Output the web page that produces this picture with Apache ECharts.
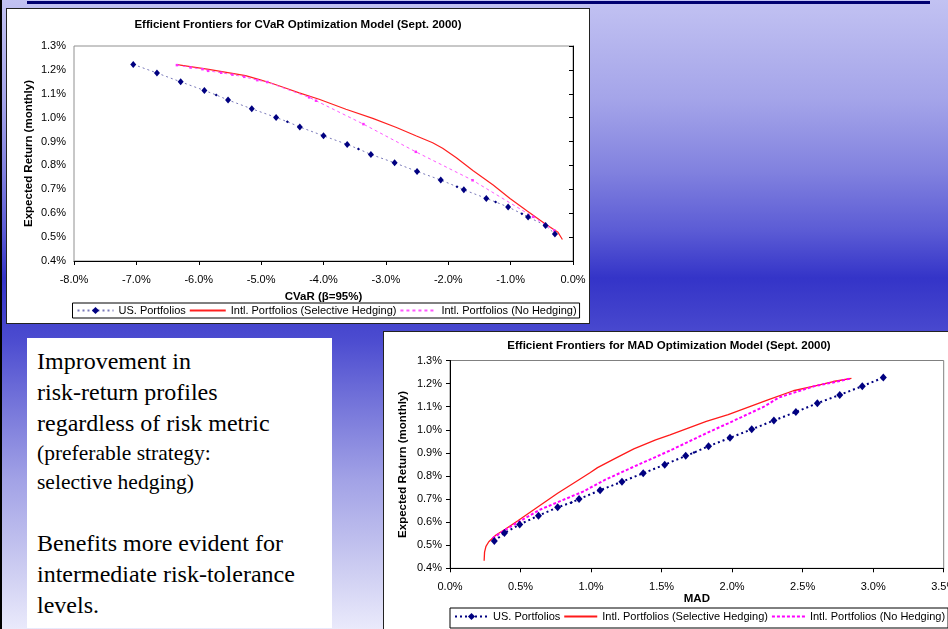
<!DOCTYPE html>
<html>
<head>
<meta charset="utf-8">
<script src="https://cdn.jsdelivr.net/npm/echarts@6/dist/echarts.min.js"></script>
<style>
  html, body { margin:0; padding:0; }
  #slide { position:relative; width:948px; height:629px; overflow:hidden;
    background: linear-gradient(to bottom, #c2c2f2 0px, #a4a4e9 100px, #8282df 170px, #5c5cd5 230px, #3434c8 278px, #4242cc 315px, #4c4cd0 340px, #7272d9 400px, #a2a2e6 480px, #c8c8f0 560px, #eaeafb 629px); }
  #navbar { position:absolute; left:27px; top:0.5px; width:903px; height:3px; background:#000070; }
  #leftline { position:absolute; left:0; top:0; width:2px; height:629px; background:#000; }
  .box { position:absolute; background:#fff; border:1.5px solid #222; box-sizing:border-box; }
  #box1 { left:6px; top:8px; width:583.5px; height:315.5px; }
  #box2 { left:383px; top:331px; width:570px; height:305px; }
  #textbox { position:absolute; left:27px; top:338px; width:305px; height:290px; background:#fff; }
  .ln { position:absolute; left:10px; white-space:nowrap; font-family:"Liberation Serif", "Times New Roman", serif; color:#000; }
  .big { font-size:24px; line-height:31px; }
  .small { font-size:21.5px; line-height:29.5px; }
  #chart { position:absolute; left:0; top:0; width:1000px; height:660px; }
</style>
</head>
<body>
<div id="slide">
  <div id="navbar"></div>
  <div id="leftline"></div>
  <div class="box" id="box1"></div>
  <div class="box" id="box2"></div>
  <div id="textbox">
    <div class="ln big" style="top:7.7px">Improvement in</div>
    <div class="ln big" style="top:38.7px">risk-return profiles</div>
    <div class="ln big" style="top:69.7px">regardless of risk metric</div>
    <div class="ln small" style="top:100.7px">(preferable strategy:</div>
    <div class="ln small" style="top:130.2px">selective hedging)</div>
    <div class="ln big" style="top:190.1px">Benefits more evident for</div>
    <div class="ln big" style="top:221.1px">intermediate risk-tolerance</div>
    <div class="ln big" style="top:252.1px">levels.</div>
  </div>
  <div id="chart"></div>
</div>
<script>
// ---------- data ----------
const SERIES_NAMES = ['US. Portfolios', 'Intl. Portfolios (Selective Hedging)', 'Intl. Portfolios (No Hedging)'];

const CVAR_X_TICKS = [-8, -7, -6, -5, -4, -3, -2, -1, 0];
const RETURN_TICKS = [0.4, 0.5, 0.6, 0.7, 0.8, 0.9, 1.0, 1.1, 1.2, 1.3];
const MAD_X_TICKS = [0, 0.5, 1.0, 1.5, 2.0, 2.5, 3.0, 3.5];

// CVaR chart: [CVaR %, expected return %]
const US_CVAR = [[-7.05,1.223],[-6.67,1.187],[-6.29,1.150],[-5.91,1.114],[-5.72,1.095],[-5.53,1.074],[-5.15,1.037],
  [-4.76,1.001],[-4.58,0.983],[-4.38,0.961],[-4.00,0.924],[-3.62,0.888],[-3.44,0.869],[-3.24,0.846],[-2.86,0.811],
  [-2.50,0.775],[-2.12,0.739],[-1.86,0.711],[-1.75,0.698],[-1.39,0.662],[-1.24,0.647],[-1.04,0.626],[-0.82,0.598],
  [-0.72,0.584],[-0.44,0.549],[-0.29,0.513]];
const US_CVAR_MINOR = [4, 8, 12, 17, 20, 22];   // points drawn with a tiny marker
const SEL_CVAR = [[-6.35,1.222],[-5.84,1.202],[-5.25,1.176],[-5.00,1.157],[-4.82,1.143],[-4.60,1.123],[-4.39,1.104],
  [-4.07,1.077],[-3.64,1.035],[-3.21,0.997],[-2.83,0.959],[-2.51,0.923],[-2.25,0.895],[-2.09,0.872],[-1.87,0.832],
  [-1.60,0.778],[-1.28,0.718],[-1.01,0.662],[-0.74,0.610],[-0.42,0.551],[-0.24,0.520],[-0.17,0.490]];
const NOH_CVAR = [[-6.35,1.220],[-6.13,1.210],[-5.94,1.203],[-5.85,1.196],[-5.64,1.188],[-5.46,1.180],[-5.27,1.171],
  [-5.06,1.157],[-4.90,1.149],[-4.23,1.085],[-4.12,1.071],[-3.36,0.973],[-2.52,0.857],[-1.61,0.738],[-0.64,0.585],
  [-0.30,0.528]];

// MAD chart: [MAD %, expected return %]
const US_MAD = [[0.314,0.518],[0.386,0.553],[0.494,0.590],[0.627,0.628],[0.763,0.664],[0.861,0.685],[0.915,0.700],
  [1.064,0.738],[1.219,0.775],[1.370,0.812],[1.522,0.849],[1.671,0.887],[1.730,0.901],[1.833,0.929],[1.985,0.965],
  [2.139,1.002],[2.296,1.040],[2.452,1.077],[2.604,1.115],[2.763,1.151],[2.923,1.189],[3.072,1.226]];
const US_MAD_MINOR = [5, 12];
const SEL_MAD = [[0.242,0.433],[0.245,0.470],[0.255,0.495],[0.275,0.515],[0.326,0.544],[0.391,0.569],[0.481,0.606],
  [0.609,0.660],[0.763,0.725],[0.892,0.775],[0.995,0.815],[1.046,0.836],[1.175,0.877],[1.303,0.917],[1.458,0.956],
  [1.560,0.978],[1.817,1.036],[1.972,1.066],[2.254,1.129],[2.434,1.169],[2.589,1.190],[2.717,1.209],[2.846,1.223]];
const NOH_MAD = [[0.301,0.530],[0.391,0.566],[0.532,0.617],[0.635,0.653],[0.789,0.693],[0.943,0.732],[1.098,0.783],
  [1.303,0.840],[1.560,0.910],[1.817,0.985],[1.972,1.028],[2.229,1.101],[2.332,1.140],[2.486,1.170],[2.589,1.190],
  [2.717,1.205],[2.846,1.223]];

// ---------- chart ----------
const FONT = '"Liberation Sans", Arial, sans-serif';
const pct = v => v.toFixed(1) + '%';
const step = a => +(a[1] - a[0]).toFixed(6);

function xAxisCfg(grid, ticks, name, gap) {
  return {
    gridIndex: grid, type: 'value', min: ticks[0], max: ticks[ticks.length - 1], interval: step(ticks),
    axisLine: { show: true, onZero: false, lineStyle: { color: '#000', width: 1 } },
    axisTick: { show: true, length: 4, lineStyle: { color: '#000' } },
    splitLine: { show: false },
    axisLabel: { formatter: pct, fontSize: 11, color: '#000', margin: 13, fontFamily: FONT, showMaxLabel: true, showMinLabel: true, hideOverlap: false },
    name: name, nameLocation: 'middle', nameGap: gap,
    nameTextStyle: { fontWeight: 'bold', fontSize: 11.5, color: '#000', fontFamily: FONT }
  };
}
function yAxisCfg(grid, pos, showLine, showLabel, name, tickInside, gap) {
  return {
    gridIndex: grid, type: 'value', position: pos,
    min: RETURN_TICKS[0], max: RETURN_TICKS[RETURN_TICKS.length - 1], interval: step(RETURN_TICKS),
    axisLine: { show: showLine, onZero: false, lineStyle: { color: '#000', width: 1 } },
    axisTick: { show: showLine, length: 4, inside: tickInside, lineStyle: { color: '#000' } },
    splitLine: { show: false },
    axisLabel: { show: showLabel, formatter: pct, fontSize: 11, color: '#000', margin: 8, fontFamily: FONT },
    name: name, nameLocation: 'middle', nameGap: gap, nameRotate: 90,
    nameTextStyle: { fontWeight: 'bold', fontSize: 11.5, color: '#000', fontFamily: FONT }
  };
}
const lineOnly = { itemStyle: { opacity: 0 } };

const chart = echarts.init(document.getElementById('chart'), null, { renderer: 'canvas' });
const option = {
  backgroundColor: 'transparent',
  animation: false,
  graphic: [
    { type: 'text', x: 298, y: 25, style: { text: 'Efficient Frontiers for CVaR Optimization Model (Sept. 2000)',
      font: 'bold 11.5px ' + FONT, fill: '#000', align: 'center', verticalAlign: 'middle' } },
    { type: 'text', x: 669, y: 346, style: { text: 'Efficient Frontiers for MAD Optimization Model (Sept. 2000)',
      font: 'bold 11.5px ' + FONT, fill: '#000', align: 'center', verticalAlign: 'middle' } }
  ],
  grid: [
    { left: 74, top: 46, width: 499, height: 215, show: true, borderColor: '#909090', borderWidth: 1, backgroundColor: 'transparent' },
    { left: 450, top: 360.5, width: 493.7, height: 207.8, show: true, borderColor: '#808080', borderWidth: 1, backgroundColor: 'transparent' }
  ],
  xAxis: [
    xAxisCfg(0, CVAR_X_TICKS, 'CVaR (β=95%)', 29.5),
    xAxisCfg(1, MAD_X_TICKS, 'MAD', 23)
  ],
  yAxis: [
    yAxisCfg(0, 'left', false, true, 'Expected Return (monthly)', false, 39),
    yAxisCfg(0, 'right', true, false, '', true, 35),
    yAxisCfg(1, 'left', true, true, 'Expected Return (monthly)', false, 41)
  ],
  legend: [
    { data: [{ name: SERIES_NAMES[0] }, Object.assign({ name: SERIES_NAMES[1] }, lineOnly), Object.assign({ name: SERIES_NAMES[2] }, lineOnly)],
      left: 72.5, top: 303, orient: 'horizontal',
      itemWidth: 36, itemHeight: 9, itemGap: 3, padding: [2, 3, 2, 4], borderColor: '#000', borderWidth: 1,
      backgroundColor: '#fff', textStyle: { fontSize: 11, color: '#000', fontFamily: FONT }, selectedMode: false },
    { data: [{ name: SERIES_NAMES[0] + ' ' }, Object.assign({ name: SERIES_NAMES[1] + ' ' }, lineOnly), Object.assign({ name: SERIES_NAMES[2] + ' ' }, lineOnly)],
      left: 450, top: 608, orient: 'horizontal',
      itemWidth: 33, itemHeight: 9, itemGap: 3, padding: [3, 3, 6, 4], borderColor: '#000', borderWidth: 1,
      backgroundColor: '#fff', textStyle: { fontSize: 11, color: '#000', fontFamily: FONT }, selectedMode: false,
      formatter: n => n.trim() }
  ],
  series: [
    { name: SERIES_NAMES[0], type: 'line', xAxisIndex: 0, yAxisIndex: 0, data: US_CVAR,
      symbol: 'diamond',
      symbolSize: (v, p) => (p && US_CVAR_MINOR.includes(p.dataIndex)) ? 3 : [6, 7],
      itemStyle: { color: '#000080' }, lineStyle: { color: '#7878b8', width: 1, type: [2, 3] }, z: 4 },
    { name: SERIES_NAMES[1], type: 'line', xAxisIndex: 0, yAxisIndex: 0, data: SEL_CVAR, symbol: 'none',
      itemStyle: { color: '#ff2020' }, lineStyle: { color: '#ff2020', width: 1.2 }, z: 3 },
    { name: SERIES_NAMES[2], type: 'line', xAxisIndex: 0, yAxisIndex: 0, data: NOH_CVAR,
      symbol: 'rect', symbolSize: 2.5, showSymbol: true,
      itemStyle: { color: '#ff33ff' }, lineStyle: { color: '#ff55ff', width: 1, type: [3, 3] }, z: 3 },

    { name: SERIES_NAMES[0] + ' ', type: 'line', xAxisIndex: 1, yAxisIndex: 2, data: US_MAD,
      symbol: 'diamond',
      symbolSize: (v, p) => (p && US_MAD_MINOR.includes(p.dataIndex)) ? 3 : [7, 8],
      itemStyle: { color: '#000080' }, lineStyle: { color: '#000080', width: 2, type: [2, 3] }, z: 4 },
    { name: SERIES_NAMES[1] + ' ', type: 'line', xAxisIndex: 1, yAxisIndex: 2, data: SEL_MAD, symbol: 'none',
      itemStyle: { color: '#ff0000' }, lineStyle: { color: '#ff1a1a', width: 1.3 }, z: 3 },
    { name: SERIES_NAMES[2] + ' ', type: 'line', xAxisIndex: 1, yAxisIndex: 2, data: NOH_MAD, symbol: 'none',
      itemStyle: { color: '#ff00ff' }, lineStyle: { color: '#ff00ff', width: 2, type: [3, 2] }, z: 3 }
  ]
};
chart.setOption(option);
</script>
</body>
</html>
